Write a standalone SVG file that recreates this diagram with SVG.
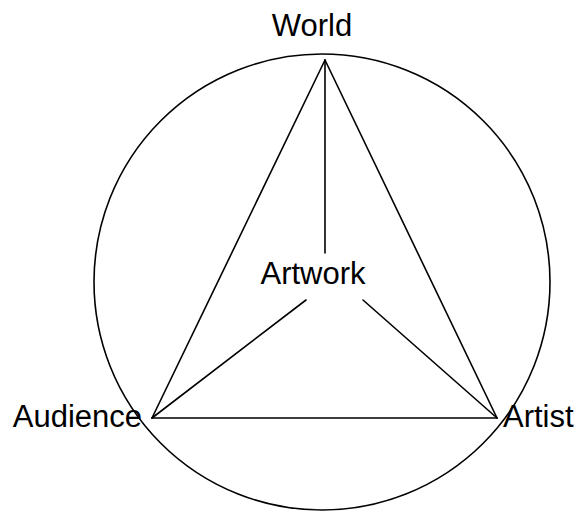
<svg xmlns="http://www.w3.org/2000/svg" width="574" height="512" viewBox="0 0 574 512">
<style>
.l{stroke:#000;stroke-width:1.6;fill:none;stroke-linecap:round}
.t{font-family:"Liberation Sans",Arial,sans-serif;font-size:31px;fill:#000}
</style>
<rect width="574" height="512" fill="#fff"/>
<g id="connectors">
<circle class="l" cx="322" cy="282" r="228"/>
<line class="l" x1="325" y1="60" x2="152" y2="418"/>
<line class="l" x1="325" y1="60" x2="497" y2="418"/>
<line class="l" x1="152" y1="418" x2="497" y2="418"/>
<line class="l" x1="325" y1="60" x2="325" y2="253"/>
<line class="l" x1="152" y1="418" x2="306" y2="300"/>
<line class="l" x1="497" y1="418" x2="363" y2="300"/>
</g>
<g id="world"><text class="t" x="312" y="36" text-anchor="middle">World</text></g>
<g id="artwork"><text class="t" x="313" y="284" text-anchor="middle">Artwork</text></g>
<g id="audience"><text class="t" x="142" y="427" text-anchor="end">Audience</text></g>
<g id="artist"><text class="t" x="503" y="427">Artist</text></g>
</svg>
